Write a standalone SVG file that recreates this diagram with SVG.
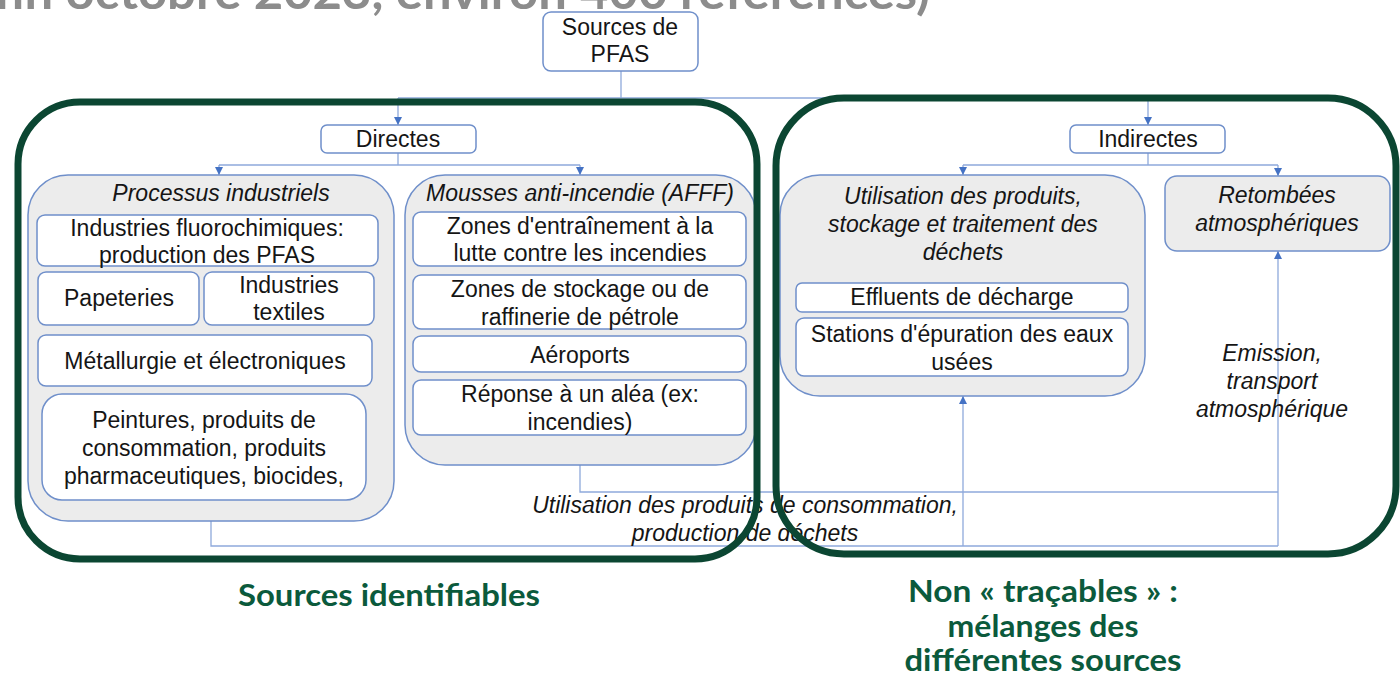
<svg xmlns="http://www.w3.org/2000/svg" width="1400" height="676" viewBox="0 0 1400 676">
<defs>
<marker id="arr" markerUnits="userSpaceOnUse" markerWidth="9" markerHeight="9" refX="8" refY="4" orient="auto">
<path d="M0,0 L8,4 L0,8 z" fill="#4472c4"/>
</marker>
<style>
.t{font-family:"Liberation Sans",Arial,sans-serif;font-size:23px;fill:#151515;text-anchor:middle}
.i{font-style:italic}
.box{fill:#ffffff;stroke:#6f8fca;stroke-width:1.5}
.grp{fill:#ececec;stroke:#6f8fca;stroke-width:1.5}
.con{fill:none;stroke:#8ea9db;stroke-width:1.3}
.arr{marker-end:url(#arr)}
.green{fill:none;stroke:#0b4632;stroke-width:7}
.gt{font-family:Lato,"Open Sans",sans-serif;font-weight:bold;font-size:30px;fill:#0b5a3c;text-anchor:middle}
</style>
</defs>
<rect width="1400" height="676" fill="#ffffff"/>
<text x="-6" y="9" textLength="936" lengthAdjust="spacingAndGlyphs" style="font-family:Lato,'Open Sans',sans-serif;font-weight:bold;font-size:48px;fill:#8c8c8c">fin octobre 2023, environ 400 références)</text>

<g id="connectors">
<path class="con" d="M621,71 V98"/>
<path class="con" d="M398,98 H1148"/>
<path class="con arr" d="M398,98 V125"/>
<path class="con arr" d="M1148,98 V125"/>
<path class="con" d="M398,153 V165 M219,165 H580"/>
<path class="con arr" d="M219,165 V175"/>
<path class="con arr" d="M580,165 V175"/>
<path class="con" d="M1148,153 V165 M963,165 H1278"/>
<path class="con arr" d="M963,165 V175"/>
<path class="con arr" d="M1278,165 V176"/>
<path class="con" d="M211,521 V546 H1278 M580,465 V492 H1278"/>
<path class="con arr" d="M963,546 V396"/>
<path class="con arr" d="M1278,546 V251"/>
</g>

<g id="sources">
<rect class="box" x="543" y="12" width="155" height="59" rx="8"/>
<text class="t" x="620" y="35">Sources de</text>
<text class="t" x="620" y="62">PFAS</text>
</g>
<g id="directes">
<rect class="box" x="321" y="125" width="155" height="28" rx="6"/>
<text class="t" x="398" y="147">Directes</text>
</g>
<g id="indirectes">
<rect class="box" x="1070" y="125" width="155" height="28" rx="6"/>
<text class="t" x="1148" y="147">Indirectes</text>
</g>

<g id="processus">
<rect class="grp" x="28" y="175" width="366" height="346" rx="40"/>
<text class="t i" x="221" y="201">Processus industriels</text>
</g>
<g id="fluoro">
<rect class="box" x="37" y="215" width="341" height="51" rx="8"/>
<text class="t" x="207" y="236">Industries fluorochimiques:</text>
<text class="t" x="207" y="263">production des PFAS</text>
</g>
<g id="papeteries">
<rect class="box" x="38" y="272" width="161" height="53" rx="8"/>
<text class="t" x="119" y="306">Papeteries</text>
</g>
<g id="textiles">
<rect class="box" x="204" y="272" width="170" height="53" rx="8"/>
<text class="t" x="289" y="293">Industries</text>
<text class="t" x="289" y="320">textiles</text>
</g>
<g id="metallurgie">
<rect class="box" x="38" y="335" width="334" height="51" rx="8"/>
<text class="t" x="205" y="369">Métallurgie et électroniques</text>
</g>
<g id="peintures">
<rect class="box" x="42" y="394" width="324" height="106" rx="20"/>
<text class="t" x="204" y="428">Peintures, produits de</text>
<text class="t" x="204" y="456">consommation, produits</text>
<text class="t" x="204" y="484">pharmaceutiques, biocides,</text>
</g>

<g id="mousses">
<rect class="grp" x="405" y="175" width="351" height="290" rx="40"/>
<text class="t i" x="580" y="201">Mousses anti-incendie (AFFF)</text>
</g>
<g id="entrainement">
<rect class="box" x="413" y="212" width="333" height="54" rx="8"/>
<text class="t" x="580" y="234">Zones d'entraînement à la</text>
<text class="t" x="580" y="261">lutte contre les incendies</text>
</g>
<g id="stockage">
<rect class="box" x="413" y="275" width="333" height="54" rx="8"/>
<text class="t" x="580" y="297">Zones de stockage ou de</text>
<text class="t" x="580" y="325">raffinerie de pétrole</text>
</g>
<g id="aeroports">
<rect class="box" x="413" y="336" width="333" height="36" rx="8"/>
<text class="t" x="580" y="363">Aéroports</text>
</g>
<g id="alea">
<rect class="box" x="413" y="380" width="333" height="55" rx="8"/>
<text class="t" x="580" y="402">Réponse à un aléa (ex:</text>
<text class="t" x="580" y="430">incendies)</text>
</g>

<g id="utilisation">
<rect class="grp" x="780" y="175" width="365" height="221" rx="40"/>
<text class="t i" x="963" y="204">Utilisation des produits,</text>
<text class="t i" x="963" y="232">stockage et traitement des</text>
<text class="t i" x="963" y="260">déchets</text>
</g>
<g id="effluents">
<rect class="box" x="796" y="283" width="332" height="29" rx="6"/>
<text class="t" x="962" y="305">Effluents de décharge</text>
</g>
<g id="stations">
<rect class="box" x="796" y="318" width="332" height="58" rx="8"/>
<text class="t" x="962" y="342">Stations d'épuration des eaux</text>
<text class="t" x="962" y="370">usées</text>
</g>
<g id="retombees">
<rect class="grp" x="1165" y="176" width="225" height="75" rx="12"/>
<text class="t i" x="1277" y="203">Retombées</text>
<text class="t i" x="1277" y="231">atmosphériques</text>
</g>

<g id="labels">
<text class="t i" x="745" y="513">Utilisation des produits de consommation,</text>
<text class="t i" x="745" y="541">production de déchets</text>
<text class="t i" x="1272" y="361">Emission,</text>
<text class="t i" x="1272" y="389">transport</text>
<text class="t i" x="1272" y="417">atmosphérique</text>
</g>

<g id="zone-identifiables">
<rect class="green" x="18" y="102" width="739" height="457" rx="62"/>
<text class="gt" x="389" y="606" textLength="302" lengthAdjust="spacingAndGlyphs">Sources identifiables</text>
</g>
<g id="zone-non-tracables">
<rect class="green" x="776" y="98" width="620" height="456" rx="68"/>
<text class="gt" x="1043" y="602" textLength="270" lengthAdjust="spacingAndGlyphs">Non « traçables » :</text>
<text class="gt" x="1043" y="637" textLength="191" lengthAdjust="spacingAndGlyphs">mélanges des</text>
<text class="gt" x="1043" y="671" textLength="277" lengthAdjust="spacingAndGlyphs">différentes sources</text>
</g>
</svg>
